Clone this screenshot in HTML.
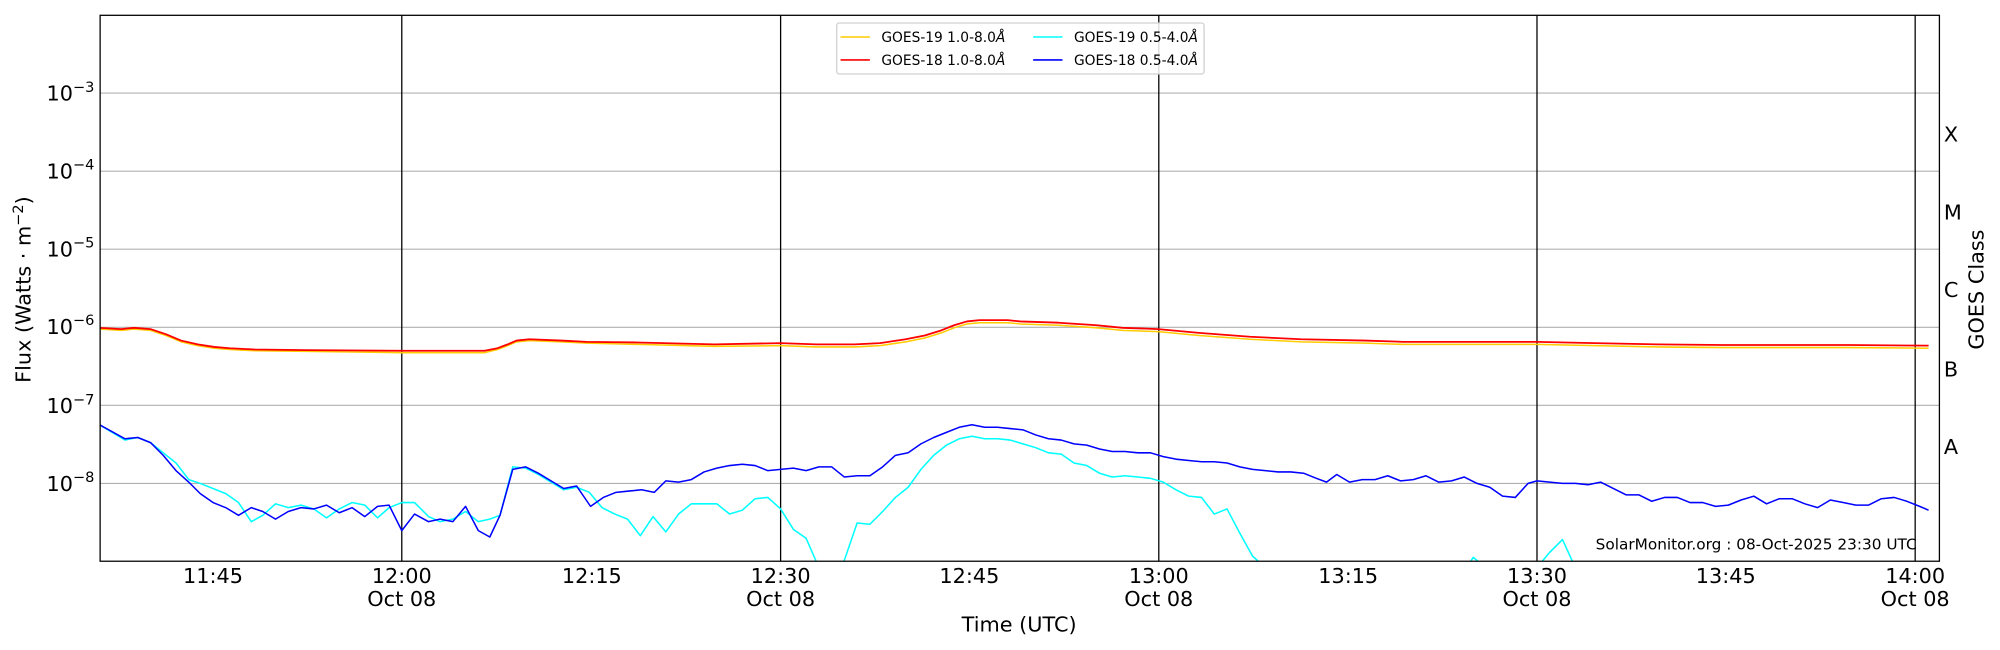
<!DOCTYPE html>
<html><head><meta charset="utf-8"><style>
html,body{margin:0;padding:0;background:#fff;}
svg{display:block;}
text{font-family:"DejaVu Sans","Liberation Sans",sans-serif;fill:#000;}
</style></head><body>
<svg width="2000" height="650" viewBox="0 0 1568 509.6" preserveAspectRatio="none" xmlns="http://www.w3.org/2000/svg">
<defs><clipPath id="c"><rect x="78.5" y="12" width="1442" height="428"/></clipPath></defs>
<rect width="1568" height="510" fill="#fff"/>
<g stroke="#b0b0b0" stroke-width="0.9">
<line x1="78.5" x2="1520.5" y1="73" y2="73"/><line x1="78.5" x2="1520.5" y1="134.2" y2="134.2"/>
<line x1="78.5" x2="1520.5" y1="195.4" y2="195.4"/><line x1="78.5" x2="1520.5" y1="256.6" y2="256.6"/>
<line x1="78.5" x2="1520.5" y1="317.8" y2="317.8"/><line x1="78.5" x2="1520.5" y1="379" y2="379"/>
</g>
<g stroke="#000" stroke-width="1">
<line x1="315" x2="315" y1="12" y2="440"/><line x1="612" x2="612" y1="12" y2="440"/>
<line x1="908.5" x2="908.5" y1="12" y2="440"/><line x1="1205" x2="1205" y1="12" y2="440"/>
<line x1="1501.5" x2="1501.5" y1="12" y2="440"/>
</g>
<g id="ticks" stroke="#000" stroke-width="0.8"></g>
<g clip-path="url(#c)" fill="none" stroke-linejoin="round">
<polyline stroke="#ffcc00" stroke-width="1.2" points="78,258 95,259 105,258 118,259 130,263 142,268 155,271 168,273 180,274 200,275 240,275.5 315,276.5 380,276.5 390,274 398,271 405,268 415,267 440,268 460,269 500,270 560,271.5 612,271 640,272 670,272 690,271 710,268 725,265 738,261 748,257 758,254 768,253 790,253 800,254 830,255 860,257 880,259 908,260 940,263 980,266 1020,268 1070,269 1100,270 1205,270 1250,271 1300,272 1350,272.5 1400,272.5 1450,272.5 1512,273"/>
<polyline stroke="#ff0000" stroke-width="1.4" points="78,257 95,258 105,257 118,258 130,262 142,267 155,270 168,272 180,273 200,274 240,274.5 315,275 380,275 390,273 398,270 405,267 415,266 440,267 460,268 500,268.5 560,270 612,269 640,270 670,270 690,269 710,266 725,263 738,259 748,255 758,252 768,251 790,251 800,252 830,253 860,255 880,257 908,258 940,261 980,264 1020,266 1070,267 1100,268 1205,268 1250,269 1300,270 1350,270.5 1400,270.5 1450,270.5 1512,271"/>
<polyline stroke="#00ffff" stroke-width="1.2" points="78,333 98,345 108,343 118,347 128,355 138,363 148,376 157,379 167,383 177,387 187,394 197,409 206,404 216,395 226,398 236,396 246,399 256,406 266,399 276,394 286,396 296,406 305,398 315,394 325,394 336,405 345,409 355,407 365,401 375,409 384,407 392,404 402,366 412,367 422,372 432,378 442,384 452,382 462,386 472,398 482,403 492,407 502,420 512,405 522,417 532,403 542,395 552,395 562,395 572,403 582,400 592,391 602,390 612,399 622,415 632,422 642,445 660,445 672,410 682,411 692,401 702,390 712,382 722,368 732,357 742,349 752,344 762,342 772,344 782,344 792,345 802,348 812,351 822,355 832,356 842,363 852,365 862,371 872,374 882,373 892,374 902,375 912,378 922,384 932,389 942,390 952,403 962,399 972,418 982,436 992,445 1150,445 1155,437 1165,445 1205,445 1215,433 1225,423 1235,445 1512,445"/>
<polyline stroke="#0000ff" stroke-width="1.2" points="78,333 98,344 108,343 118,347 128,357 138,369 148,378 157,387 167,394 177,398 187,404 197,398 206,401 216,407 226,401 236,398 246,399 256,396 266,402 276,398 286,405 296,397 305,396 315,416 325,403 336,409 345,407 355,409 365,397 375,416 384,421 392,404 402,368 412,366 422,371 432,377 442,383 452,381 463,397 473,390 483,386 493,385 503,384 513,386 522,377 532,378 542,376 552,370 562,367 572,365 582,364 592,365 602,369 612,368 622,367 632,369 642,366 652,366 662,374 672,373 682,373 692,366 702,357 712,355 722,348 732,343 742,339 752,335 762,333 772,335 782,335 792,336 802,337 812,341 822,344 832,345 842,348 852,349 862,352 872,354 882,354 892,355 902,355 912,358 922,360 932,361 942,362 952,362 962,363 972,366 982,368 992,369 1002,370 1012,370 1022,371 1032,375 1040,378 1048,372 1058,378 1068,376 1078,376 1088,373 1098,377 1108,376 1118,373 1128,378 1138,377 1148,374 1158,379 1168,382 1178,389 1188,390 1198,379 1205,377 1215,378 1225,379 1235,379 1245,380 1255,378 1265,383 1275,388 1285,388 1295,393 1305,390 1315,390 1325,394 1335,394 1345,397 1355,396 1365,392 1375,389 1385,395 1395,391 1405,391 1415,395 1425,398 1435,392 1445,394 1455,396 1465,396 1475,391 1485,390 1495,393 1505,397 1512,400"/>
</g>
<rect x="78.5" y="12" width="1442" height="428" fill="none" stroke="#000" stroke-width="1"/>
<g font-size="16.3" text-anchor="end">
<text x="74" y="79">10<tspan font-size="11.4" dy="-7">−3</tspan></text>
<text x="74" y="140">10<tspan font-size="11.4" dy="-7">−4</tspan></text>
<text x="74" y="201">10<tspan font-size="11.4" dy="-7">−5</tspan></text>
<text x="74" y="262">10<tspan font-size="11.4" dy="-7">−6</tspan></text>
<text x="74" y="324">10<tspan font-size="11.4" dy="-7">−7</tspan></text>
<text x="74" y="385">10<tspan font-size="11.4" dy="-7">−8</tspan></text>
</g>
<g font-size="16.3">
<text x="1524" y="111">X</text><text x="1524" y="172">M</text><text x="1524" y="233">C</text>
<text x="1524" y="295">B</text><text x="1524" y="356">A</text>
</g>
<text transform="translate(1555,227) rotate(-90)" font-size="16.3" text-anchor="middle">GOES Class</text>
<text transform="translate(24,227) rotate(-90)" font-size="16.3" text-anchor="middle">Flux (Watts · m<tspan font-size="11.4" dy="-6">−2</tspan><tspan dy="6">)</tspan></text>
<g font-size="16.3" text-anchor="middle">
<text x="167" y="457">11:45</text>
<text x="315" y="457">12:00</text><text x="315" y="475">Oct 08</text>
<text x="464" y="457">12:15</text>
<text x="612" y="457">12:30</text><text x="612" y="475">Oct 08</text>
<text x="760" y="457">12:45</text>
<text x="908.5" y="457">13:00</text><text x="908.5" y="475">Oct 08</text>
<text x="1057" y="457">13:15</text>
<text x="1205" y="457">13:30</text><text x="1205" y="475">Oct 08</text>
<text x="1353" y="457">13:45</text>
<text x="1501.5" y="457">14:00</text><text x="1501.5" y="475">Oct 08</text>
<text x="799" y="495">Time (UTC)</text>
</g>
<text x="1251" y="431" font-size="12">SolarMonitor.org : 08-Oct-2025 23:30 UTC</text>
<rect x="656" y="18" width="288" height="40" rx="2" fill="#fff" fill-opacity="0.85" stroke="#d0d0d0" stroke-width="1"/>
<line x1="659" x2="682" y1="29" y2="29" stroke="#ffcc00" stroke-width="1.2"/>
<line x1="659" x2="682" y1="47" y2="47" stroke="#ff0000" stroke-width="1.2"/>
<line x1="810" x2="833" y1="29" y2="29" stroke="#00ffff" stroke-width="1.2"/>
<line x1="810" x2="833" y1="47" y2="47" stroke="#0000ff" stroke-width="1.2"/>
<g font-size="10.8">
<text x="691" y="33">GOES-19 1.0-8.0<tspan font-style="italic">Å</tspan></text>
<text x="691" y="51">GOES-18 1.0-8.0<tspan font-style="italic">Å</tspan></text>
<text x="842" y="33">GOES-19 0.5-4.0<tspan font-style="italic">Å</tspan></text>
<text x="842" y="51">GOES-18 0.5-4.0<tspan font-style="italic">Å</tspan></text>
</g>
<script>
(function(){
var g=document.getElementById('ticks'),s='';
function L(x1,y1,x2,y2){s+='<line x1="'+x1+'" y1="'+y1+'" x2="'+x2+'" y2="'+y2+'"/>';}
var top=12,bot=440,dec=(bot-top)/7;
for(var d=0;d<7;d++){
 var yb=bot-d*dec;
 if(d>0){L(78.5,yb,86.5,yb);L(1520.5,yb,1512.5,yb);}
 for(var m=2;m<10;m++){var y=yb-Math.log10(m)*dec;L(78.5,y,83.5,y);L(1520.5,y,1515.5,y);}
}
[167,315,464,612,760,908.5,1057,1205,1353,1501.5].forEach(function(x){L(x,440,x,434);});
g.innerHTML=s;
})();
</script>
</svg>
</body></html>
